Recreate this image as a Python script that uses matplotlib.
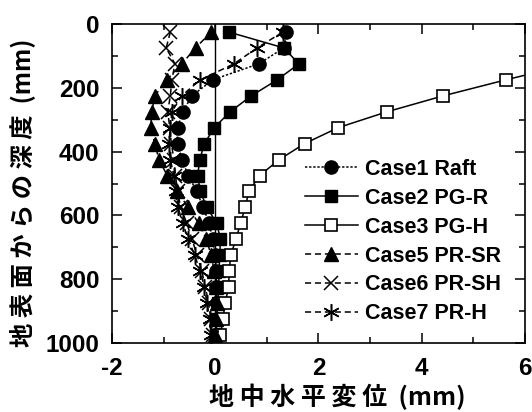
import numpy as np
import matplotlib
matplotlib.use('Agg')
import matplotlib.pyplot as plt
from matplotlib.ticker import MultipleLocator

# depth of the measurement points [mm]
depth = [25, 75, 125, 175, 225, 275, 325, 375, 425, 475,
         525, 575, 625, 675, 725, 775, 825, 875, 925, 975]

# horizontal displacement [mm]
case1 = [1.38, 1.33, 0.84, -0.05, -0.45, -0.63, -0.73, -0.73, -0.65, -0.52,
         -0.36, -0.23, -0.12, -0.05, 0.0, 0.02, 0.02, 0.03, 0.03, 0.03]
case2 = [0.26, 1.33, 1.62, 1.20, 0.70, 0.29, -0.02, -0.21, -0.30, -0.34,
         -0.29, -0.16, 0.03, 0.10, 0.09, 0.07, 0.07, 0.05, 0.03, 0.02]
# case3: the shallowest points lie beyond the right edge
depth3 = depth[2:]
case3 = [6.9, 5.63, 4.42, 3.33, 2.38, 1.73, 1.24, 0.86, 0.65, 0.58,
         0.49, 0.40, 0.30, 0.27, 0.26, 0.19, 0.15, 0.10]
case5 = [-0.08, -0.38, -0.65, -0.94, -1.17, -1.23, -1.25, -1.17, -1.09, -0.93,
         -0.74, -0.52, -0.32, -0.17, -0.08, -0.02, 0.02, 0.03, 0.02, 0.0]
case6 = [-0.87, -0.95, -0.78, -0.84, -0.87, -0.92, -0.88, -0.85, -0.80, -0.77,
         -0.73, -0.67, -0.55, -0.45, -0.35, -0.26, -0.19, -0.13, -0.08, -0.04]
case7 = [1.31, 0.81, 0.36, -0.29, -0.65, -0.84, -0.87, -0.90, -0.87, -0.80,
         -0.76, -0.72, -0.63, -0.52, -0.40, -0.29, -0.21, -0.16, -0.11, -0.08]

labels = ['Case1 Raft', 'Case2 PG-R', 'Case3 PG-H',
          'Case5 PR-SR', 'Case6 PR-SH', 'Case7 PR-H']

plt.rcParams['font.family'] = ['Liberation Sans', 'Noto Sans CJK JP']
plt.rcParams['axes.unicode_minus'] = False

fig = plt.figure(figsize=(5.32, 4.12), dpi=100)
ax = fig.add_axes([0.2105, 0.1675, 0.7763, 0.7742])

# vertical line at zero displacement
ax.axvline(0, color='black', lw=1.0, zorder=1)

kw = dict(color='black', lw=1.1, mec='black')
ax.plot(case1, depth, ls=(0, (1.5, 1.2)), marker='o', ms=9.5, label=labels[0], **kw)
ax.plot(case2, depth, ls='-', marker='s', ms=8.5, label=labels[1], **kw)
ax.plot(case3, depth3, ls='-', marker='s', ms=9, mfc='white', mew=1.2,
        label=labels[2], **kw)
ax.plot(case5, depth, ls=(0, (4, 2.5)), marker='^', ms=10.5, label=labels[3], **kw)
ax.plot(case6, depth, ls=(0, (4, 2.5)), marker='x', ms=10, mew=1.1,
        label=labels[4], **kw)
ax.plot(case7, depth, ls=(0, (4, 2.5)), marker=(6, 2, 0), ms=12, mew=1.1,
        label=labels[5], **kw)

ax.set_xlim(-2, 6)
ax.set_ylim(1000, 0)
ax.xaxis.set_major_locator(MultipleLocator(2))
ax.xaxis.set_minor_locator(MultipleLocator(1))
ax.yaxis.set_major_locator(MultipleLocator(200))
ax.yaxis.set_minor_locator(MultipleLocator(100))
ax.tick_params(which='both', direction='in', top=True, right=True, width=1.1)
ax.tick_params(which='major', length=7, labelsize=17.5)
ax.tick_params(axis='x', which='major', pad=10)
ax.tick_params(axis='y', which='major', pad=9)
ax.tick_params(which='minor', length=4)
for lab in ax.get_xticklabels() + ax.get_yticklabels():
    lab.set_fontweight('bold')
for sp in ax.spines.values():
    sp.set_linewidth(1.2)

cjk = ['Noto Sans CJK JP', 'DejaVu Sans']
ax.set_xlabel('地 中 水 平 変 位  (mm)', fontsize=18, fontweight='bold',
              family=cjk)
ax.set_ylabel('地 表 面 か ら の 深 度  (mm)', fontsize=17.5, fontweight='bold',
              family=cjk)
ax.xaxis.set_label_coords(0.545, -0.128)
ax.yaxis.set_label_coords(-0.186, 0.47)

leg = ax.legend(loc='upper left', bbox_to_anchor=(0.467, 0.578), frameon=False,
                prop={'size': 15.5, 'weight': 'bold'}, handlelength=2.45,
                handletextpad=0.33, labelspacing=0.37, borderaxespad=0,
                borderpad=0)

fig.savefig('out.png', dpi=100)
